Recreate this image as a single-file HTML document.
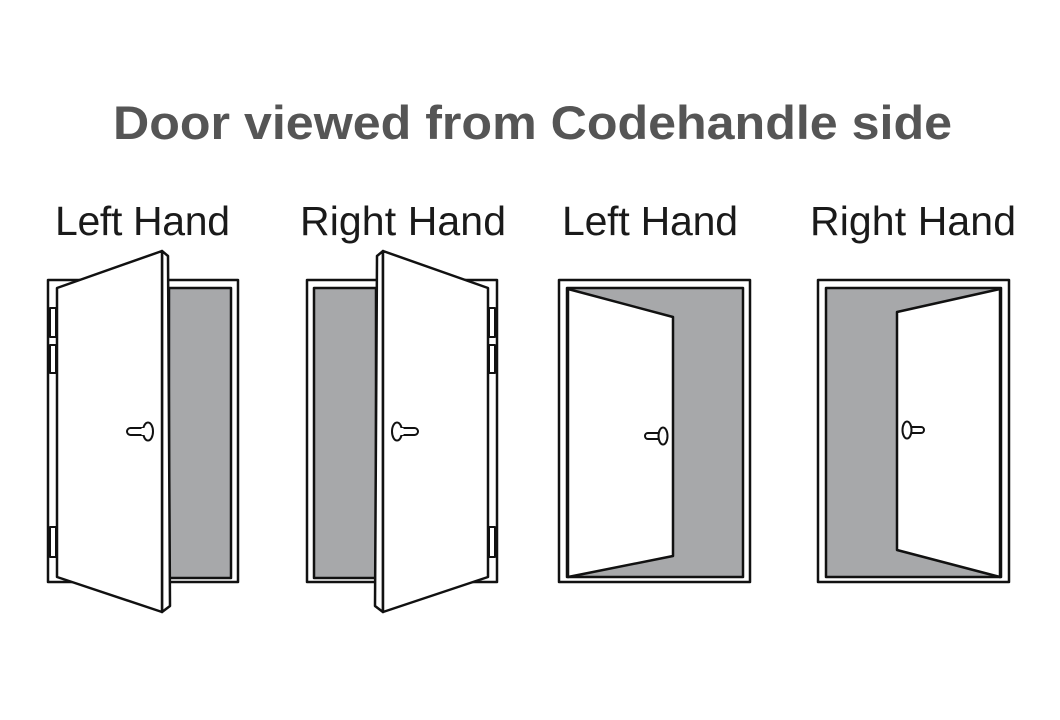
<!DOCTYPE html>
<html><head><meta charset="utf-8"><style>html,body{margin:0;padding:0;background:#fff;}svg{display:block}</style></head>
<body>
<svg width="1060" height="720" viewBox="0 0 1060 720" xmlns="http://www.w3.org/2000/svg">
<rect width="1060" height="720" fill="#fff"/>
<text x="113" y="139" font-family="Liberation Sans, sans-serif" font-weight="bold" font-size="47" fill="#555" textLength="839" lengthAdjust="spacingAndGlyphs">Door viewed from Codehandle side</text>
<g font-family="Liberation Sans, sans-serif" font-size="41" fill="#1a1a1a" lengthAdjust="spacingAndGlyphs">
<text x="55" y="235" textLength="175">Left Hand</text>
<text x="300" y="235" textLength="206">Right Hand</text>
<text x="562" y="235" textLength="176">Left Hand</text>
<text x="810" y="235" textLength="206">Right Hand</text>
</g>
<g stroke="#111" stroke-width="2.5" stroke-linejoin="round">
<!-- Door 1 -->
<g id="d1">
<rect x="48" y="280" width="190" height="302" fill="#fff"/>
<rect x="169" y="288" width="62" height="290" fill="#a7a8aa"/>
<rect x="50" y="308" width="6" height="29" fill="#fff" stroke-width="2"/>
<rect x="50" y="345" width="6" height="28" fill="#fff" stroke-width="2"/>
<rect x="50" y="527" width="6" height="30" fill="#fff" stroke-width="2"/>
<polygon points="162,251 168,256 170,606 162,612" fill="#fff"/>
<polygon points="57,288 162,251 162,612 57,577" fill="#fff"/>
<rect x="127" y="428" width="20" height="7" rx="3.5" fill="#fff" stroke-width="2"/>
<ellipse cx="148" cy="431.5" rx="5" ry="9" fill="#fff" stroke-width="2"/>
<line x1="143" y1="428" x2="143" y2="435" stroke="#fff" stroke-width="3"/>
</g>
<!-- Door 2 mirrored -->
<g transform="translate(545,0) scale(-1,1)">
<rect x="48" y="280" width="190" height="302" fill="#fff"/>
<rect x="169" y="288" width="62" height="290" fill="#a7a8aa"/>
<rect x="50" y="308" width="6" height="29" fill="#fff" stroke-width="2"/>
<rect x="50" y="345" width="6" height="28" fill="#fff" stroke-width="2"/>
<rect x="50" y="527" width="6" height="30" fill="#fff" stroke-width="2"/>
<polygon points="162,251 168,256 170,606 162,612" fill="#fff"/>
<polygon points="57,288 162,251 162,612 57,577" fill="#fff"/>
<rect x="127" y="428" width="20" height="7" rx="3.5" fill="#fff" stroke-width="2"/>
<ellipse cx="148" cy="431.5" rx="5" ry="9" fill="#fff" stroke-width="2"/>
<line x1="143" y1="428" x2="143" y2="435" stroke="#fff" stroke-width="3"/>
</g>
<!-- Door 3 -->
<rect x="559" y="280" width="191" height="302" fill="#fff"/>
<rect x="567" y="288" width="176" height="289" fill="#a7a8aa"/>
<polygon points="568,289 673,317 673,556 568,577" fill="#fff"/>
<rect x="645" y="433" width="18" height="6" rx="3" fill="#fff" stroke-width="2"/>
<ellipse cx="663" cy="436" rx="4.5" ry="8.5" fill="#fff" stroke-width="2"/>
<!-- Door 4 -->
<rect x="818" y="280" width="191" height="302" fill="#fff"/>
<rect x="826" y="288" width="175" height="289" fill="#a7a8aa"/>
<polygon points="1000,289 897,312 897,550 1000,577" fill="#fff"/>
<rect x="907" y="427" width="17" height="6" rx="3" fill="#fff" stroke-width="2"/>
<ellipse cx="907" cy="430" rx="4.5" ry="8.5" fill="#fff" stroke-width="2"/>
</g>
</svg>
</body></html>
